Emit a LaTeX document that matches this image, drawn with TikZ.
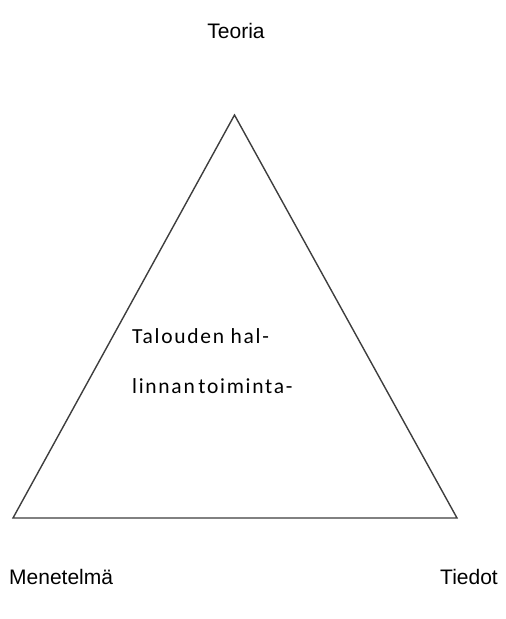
\documentclass[tikz,border=0pt]{standalone}
\usepackage{fontspec}
\setmainfont{Liberation Sans}
\newfontfamily\innerfont[LetterSpace=8]{Carlito}
\usepackage{xcolor}
\usepackage{tikz}
\usetikzlibrary{positioning}
\definecolor{edgegray}{RGB}{62,62,62}
\tikzset{
  side/.style={line width=1.4pt,draw=edgegray,line join=miter},
  cornerlabel/.style={font=\fontsize{21}{25}\selectfont,inner sep=0pt},
  innertext/.style={font=\innerfont\fontsize{21.5}{25}\selectfont,inner sep=0pt,anchor=base west}
}

\begin{document}
\begin{tikzpicture}[x=1pt,y=-1pt]
  \useasboundingbox (0,0) rectangle (506,619);
  \coordinate (apex) at (234.5,115);
  \coordinate (baseleft) at (13,518);
  \coordinate (baseright) at (457,518);
  \draw[side] (apex) -- (baseleft) -- (baseright) -- cycle;

  \node[cornerlabel,anchor=base] (teoria) at (236,38) {Teoria};
  \node[cornerlabel,anchor=base west] (menetelma) at (9,584) {Menetelmä};
  \node[cornerlabel,anchor=base east] (tiedot) at (498,584) {Tiedot};

  \node[innertext] (rivi1) at (132,343) {Talouden hal-};
  \node[innertext] (rivi2) at (132,393) {linnan\,toiminta-};
\end{tikzpicture}
\end{document}
